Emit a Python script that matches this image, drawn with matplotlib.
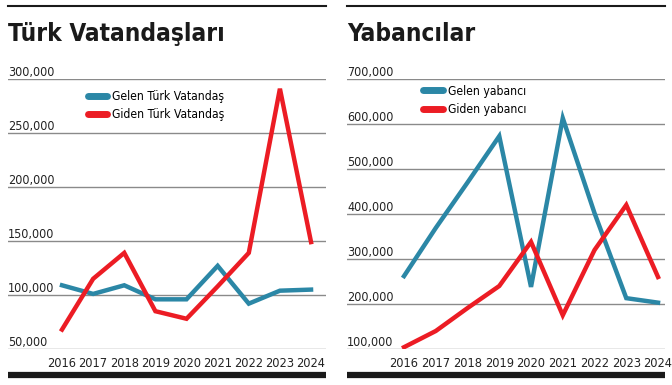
import matplotlib.pyplot as plt
import matplotlib.transforms as mtransforms
from matplotlib.lines import Line2D

years = [2016, 2017, 2018, 2019, 2020, 2021, 2022, 2023, 2024]

# Türk vatandaşları
tr_gelen = [109000, 101000, 109000, 96000, 96000, 127000, 92000, 104000, 105000]
tr_giden = [68000, 115000, 139000, 85000, 78000, 108000, 139000, 291000, 149000]
tr_ticks = [50000, 100000, 150000, 200000, 250000, 300000]

# Yabancılar
yb_gelen = [262000, 369000, 470000, 573000, 238000, 613000, 402000, 213000, 203000]
yb_giden = [104000, 140000, 191000, 240000, 338000, 175000, 320000, 420000, 260000]
yb_ticks = [100000, 200000, 300000, 400000, 500000, 600000, 700000]

BLUE = "#2b87a6"
RED = "#ec1c24"

plt.rcParams["font.family"] = ["DejaVu Sans"]
plt.rcParams["font.stretch"] = "condensed"

fig = plt.figure(figsize=(6.72, 3.85), dpi=100)


def panel(left, title, gelen, giden, ticks, ylim, xlim, labels, anchor):
    ax = fig.add_axes([left, 0.0935, 0.4732, 0.7013])
    ax.set_xlim(*xlim)
    ax.set_ylim(*ylim)
    for s in ax.spines.values():
        s.set_visible(False)
    ax.set_yticks([])
    ax.set_xticks([])

    trans = mtransforms.blended_transform_factory(ax.transAxes, ax.transData)
    for t in ticks:
        ax.axhline(t, color="#8a8a8a", lw=1.0, zorder=1)
        ax.text(0.0, t, f"{t:,}", transform=trans, ha="left", va="bottom",
                fontsize=9, color="#222222")

    ax.plot(years, gelen, color=BLUE, lw=3.2, zorder=3, solid_joinstyle="miter")
    ax.plot(years, giden, color=RED, lw=3.2, zorder=3, solid_joinstyle="miter")

    xtrans = mtransforms.blended_transform_factory(ax.transData, ax.transAxes)
    for y in years:
        ax.text(y, -0.03, str(y), transform=xtrans, ha="center", va="top",
                fontsize=9.2, color="#222222")

    # top rule, title and bottom bar
    ax.add_line(Line2D([0, 1], [1.27, 1.27], transform=ax.transAxes, color="#1a1a1a",
                       lw=1.5, clip_on=False))
    ax.text(0.0, 1.165, title, transform=ax.transAxes, ha="left", va="center",
            fontsize=17.5, fontweight="bold", color="#1a1a1a")
    ax.add_line(Line2D([0, 1], [-0.097, -0.097], transform=ax.transAxes, color="#1a1a1a",
                       lw=4.5, clip_on=False, solid_capstyle="butt"))

    ax.legend([Line2D([], [], color=BLUE, lw=5, solid_capstyle="round"),
               Line2D([], [], color=RED, lw=5, solid_capstyle="round")],
              labels, loc="upper left", bbox_to_anchor=anchor,
              frameon=False, fontsize=8.7, handlelength=1.6, handletextpad=0.4,
              labelspacing=0.45, borderaxespad=0)
    return ax


panel(0.0119, "Türk Vatandaşları", tr_gelen, tr_giden, tr_ticks, (50000, 300000),
      (2014.265, 2024.48), ["Gelen Türk Vatandaş", "Giden Türk Vatandaş"], (0.235, 0.977))
panel(0.5164, "Yabancılar", yb_gelen, yb_giden, yb_ticks, (100000, 700000),
      (2014.205, 2024.22), ["Gelen yabancı", "Giden yabancı"], (0.225, 0.997))

fig.savefig("out.png", dpi=100)
